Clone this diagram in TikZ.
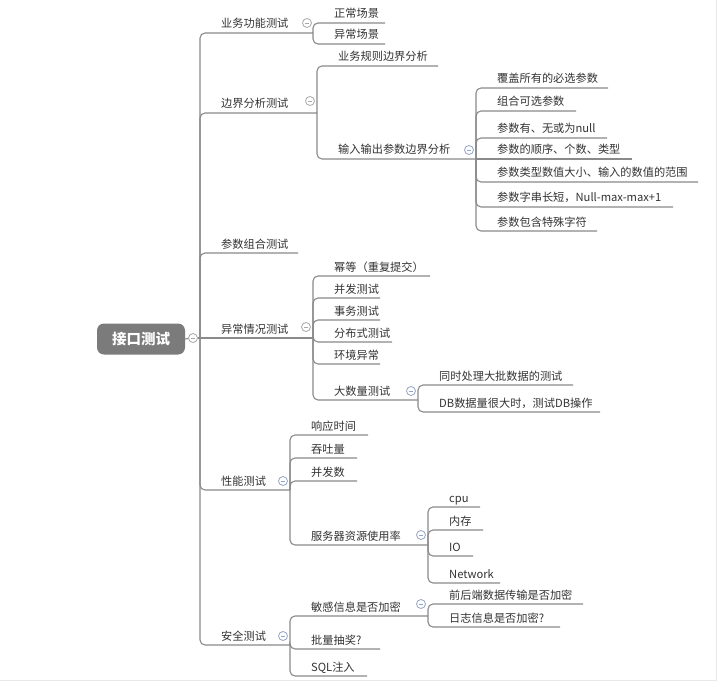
\documentclass[tikz,border=0pt]{standalone}
\usepackage{fontspec}
\newfontfamily\cjk{Noto Sans CJK SC}
\usetikzlibrary{calc}
\definecolor{txt}{HTML}{333333}
\definecolor{ln}{HTML}{8A8A8A}
\definecolor{tg}{HTML}{A8A8A8}
\definecolor{tb}{HTML}{93A6C9}
\definecolor{rootfill}{HTML}{7B7B7B}
\definecolor{frame}{HTML}{E8E8E8}
\tikzset{
 lbl/.style={anchor=base west, inner sep=0pt, text=txt, font=\cjk\fontsize{11.2}{13}\selectfont},
 br/.style={draw=ln, line width=1.1pt, rounded corners=5pt},
 tog/.style={circle, draw=#1, line width=0.8pt, minimum size=9pt, inner sep=0pt, fill=white,
   path picture={\draw[#1, line width=0.8pt] ($(path picture bounding box.center)+(-2.4pt,0)$) -- ++(4.8pt,0);}},
 rootbox/.style={rounded corners=7pt, fill=rootfill, text=white, minimum width=88pt, minimum height=31pt, inner sep=0pt, font=\cjk\bfseries\fontsize{14.5}{16}\selectfont},
}
% name, spine x, parent y, underline y, end x, text
\newcommand\mmkid[6]{%
 \node[lbl] (#1) at ({#2+21},{#4-5}) {#6};
 \coordinate (#1-s) at (#2,#3);
 \coordinate (#1-e) at (#5,#4);
 \draw[br] (#1-s) |- (#1-e);
}
\newcommand\mmkidS[6]{%
 \node[lbl] (#1) at ({#2+21},{#4-5}) {#6};
 \coordinate (#1-s) at (#2,#3);
 \coordinate (#1-e) at (#5,#4);
 \draw[br] (#1-s) -- (#1-e);
}
\begin{document}
\begin{tikzpicture}[x=1pt,y=-1pt]
\useasboundingbox (0,0) rectangle (720,687);
\fill[white] (0,0) rectangle (720,687);
\draw[frame, line width=0.8pt] (0,680.5) -- (716.5,680.5) -- (716.5,0);

% root
\node[rootbox] (root) at (141,339) {接口测试};
\node[tog=tg] (rt) at (193,338) {};
\coordinate (sp0) at (200,338);
\draw[br] (root.east) -- (rt);
\draw[br] (rt) -- (sp0);

% level 1 (spine x = 200)
\mmkid{k1}{200}{338}{33}{313}{业务功能测试}
\mmkid{k2}{200}{338}{113}{317}{边界分析测试}
\mmkid{k3}{200}{338}{253}{298}{参数组合测试}
\mmkidS{k4}{200}{338}{338}{313}{异常情况测试}
\mmkid{k5}{200}{338}{490}{290}{性能测试}
\mmkid{k6}{200}{338}{645}{290}{安全测试}

% 业务功能测试
\mmkid{a1}{313}{33}{23}{385}{正常场景}
\mmkid{a2}{313}{33}{44}{385}{异常场景}

% 边界分析测试
\mmkid{b1}{317}{113}{66}{438}{业务规则边界分析}
\mmkid{b2}{317}{113}{159}{476}{输入输出参数边界分析}

% 输入输出参数边界分析
\mmkid{c1}{476}{159}{88}{608}{覆盖所有的必选参数}
\mmkid{c2}{476}{159}{111}{576}{组合可选参数}
\mmkid{c3}{476}{159}{138}{607}{参数有、无或为null}
\mmkidS{c4}{476}{159}{159}{632}{参数的顺序、个数、类型}
\mmkid{c5}{476}{159}{182}{698}{参数类型数值大小、输入的数值的范围}
\mmkid{c6}{476}{159}{207}{673}{参数字串长短，Null-max-max+1}
\mmkid{c7}{476}{159}{231}{597}{参数包含特殊字符}

% 异常情况测试
\mmkid{d1}{313}{338}{276}{430}{幂等（重复提交）}
\mmkid{d2}{313}{338}{298}{380}{并发测试}
\mmkid{d3}{313}{338}{320}{380}{事务测试}
\mmkid{d4}{313}{338}{342}{392}{分布式测试}
\mmkid{d5}{313}{338}{364}{380}{环境异常}
\mmkid{d6}{313}{338}{400}{418}{大数量测试}

% 大数量测试
\mmkid{e1}{418}{400}{385}{573}{同时处理大批数据的测试}
\mmkid{e2}{418}{400}{412}{600}{DB数据量很大时，测试DB操作}

% 性能测试
\mmkid{f1}{290}{490}{435}{368}{响应时间}
\mmkid{f2}{290}{490}{458}{357}{吞吐量}
\mmkid{f3}{290}{490}{481}{357}{并发数}
\mmkid{f4}{290}{490}{545}{428}{服务器资源使用率}

% 服务器资源使用率
\mmkid{g1}{428}{545}{507}{480}{cpu}
\mmkid{g2}{428}{545}{530}{483}{内存}
\mmkid{g3}{428}{545}{556}{473}{IO}
\mmkid{g4}{428}{545}{583}{500}{Network}

% 安全测试
\mmkid{h1}{290}{645}{616}{428}{敏感信息是否加密}
\mmkid{h2}{290}{645}{649}{380}{批量抽奖?}
\mmkid{h3}{290}{645}{676}{367}{SQL注入}

% 敏感信息是否加密
\mmkid{i1}{428}{616}{604}{583}{前后端数据传输是否加密}
\mmkid{i2}{428}{616}{627}{560}{日志信息是否加密?}

% collapse toggles
\node[tog=tg] (t1) at (307,23) {};
\node[tog=tg] (t2) at (310,101) {};
\node[tog=tb] (t3) at (469,150) {};
\node[tog=tg] (t4) at (306,327) {};
\node[tog=tb] (t5) at (411,391) {};
\node[tog=tb] (t6) at (283,481) {};
\node[tog=tb] (t7) at (421,535) {};
\node[tog=tb] (t8) at (283,636) {};
\node[tog=tb] (t9) at (421,604) {};
\end{tikzpicture}
\end{document}
